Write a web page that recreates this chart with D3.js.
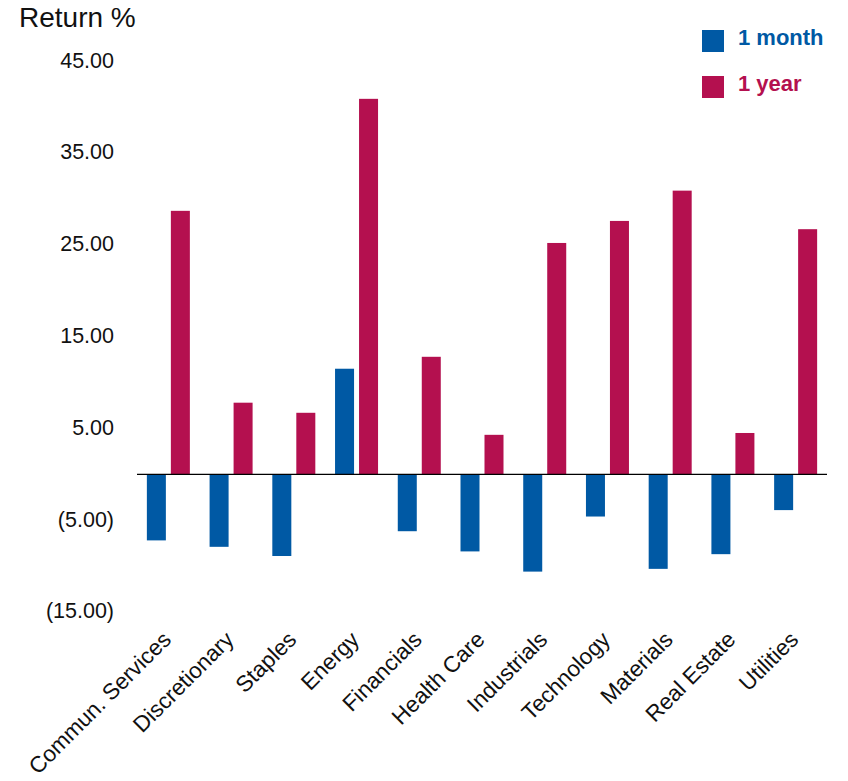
<!DOCTYPE html>
<html>
<head>
<meta charset="utf-8">
<script src="https://cdn.jsdelivr.net/npm/d3@7"></script>
<style>
  html, body { margin: 0; padding: 0; background: #fff; }
  svg { display: block; font-family: "Liberation Sans", Arial, sans-serif; }
</style>
</head>
<body>
<svg id="chart" width="848" height="781"></svg>
<script>
const categories = ["Commun. Services", "Discretionary", "Staples", "Energy", "Financials",
  "Health Care", "Industrials", "Technology", "Materials", "Real Estate", "Utilities"];
const seriesNames = ["1 month", "1 year"];
const oneMonth = [-7.2, -7.9, -8.9, 11.5, -6.2, -8.4, -10.6, -4.6, -10.3, -8.7, -3.9];
const oneYear  = [28.7, 7.8, 6.7, 40.9, 12.8, 4.3, 25.2, 27.6, 30.9, 4.5, 26.7];
const tickValues = [45, 35, 25, 15, 5, -5, -15];
const colors = ["#0059A4", "#B4104F"];

(function () {
const svg = d3.select("#chart");
const plotLeft = 137, plotRight = 827, plotTop = 61.2, plotBottom = 612;

const x0 = d3.scaleBand().domain(categories).range([plotLeft, plotRight]).padding(0);
const x1 = d3.scaleBand().domain(seriesNames).range([0, x0.bandwidth()])
  .paddingInner(0.208).paddingOuter(0.411);
const y = d3.scaleLinear().domain([-15, 45]).range([plotBottom, plotTop]);
const color = d3.scaleOrdinal().domain(seriesNames).range(colors);

const rows = categories.map((c, i) => ({ cat: c, vals: [
  { s: seriesNames[0], v: oneMonth[i] },
  { s: seriesNames[1], v: oneYear[i] }
]}));

// bars
const g = svg.append("g");
g.selectAll("g.cat").data(rows).join("g")
  .attr("class", "cat")
  .attr("transform", d => `translate(${x0(d.cat)},0)`)
  .selectAll("rect").data(d => d.vals).join("rect")
  .attr("x", d => x1(d.s))
  .attr("width", x1.bandwidth())
  .attr("y", d => y(Math.max(0, d.v)))
  .attr("height", d => Math.abs(y(d.v) - y(0)))
  .attr("fill", d => color(d.s));

// zero line
svg.append("line")
  .attr("x1", plotLeft).attr("x2", plotRight)
  .attr("y1", y(0)).attr("y2", y(0))
  .attr("stroke", "#000").attr("stroke-width", 1.3);

// y axis tick labels
const fmt = v => v < 0 ? "(" + d3.format(".2f")(-v) + ")" : d3.format(".2f")(v);
const yAxis = d3.axisLeft(y).tickValues(tickValues).tickFormat(fmt).tickSize(0).tickPadding(0);
const ya = svg.append("g").attr("transform", "translate(114,-1)").call(yAxis);
ya.select(".domain").remove();
ya.selectAll("text").attr("font-size", 21.5).attr("fill", "#111")
  .attr("font-family", "'Liberation Sans', Arial, sans-serif");

// category labels
svg.append("g").selectAll("text").data(categories).join("text")
  .attr("transform", d => `translate(${x0(d) + x0.bandwidth() / 2 + 4},641) rotate(-45)`)
  .attr("text-anchor", "end")
  .attr("font-size", 22.5)
  .attr("fill", "#111")
  .text(d => d);

// title
svg.append("text").attr("x", 19).attr("y", 27)
  .attr("font-size", 28).attr("fill", "#111").text("Return %");

// legend
const leg = svg.append("g");
seriesNames.forEach((s, i) => {
  const yy = 30 + i * 46;
  leg.append("rect").attr("x", 702).attr("y", yy).attr("width", 22).attr("height", 22)
    .attr("fill", color(s));
  leg.append("text").attr("x", 738).attr("y", yy + 14.5)
    .attr("font-size", 22).attr("font-weight", "bold").attr("fill", color(s)).text(s);
});
})();
</script>
</body>
</html>
